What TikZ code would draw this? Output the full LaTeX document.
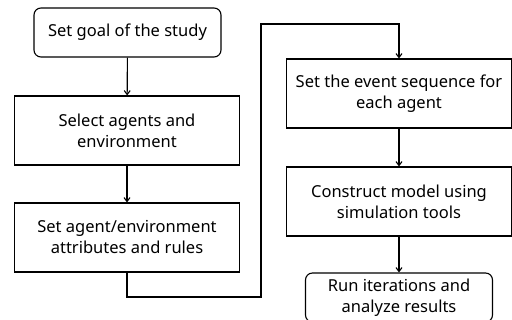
\documentclass[tikz,border=0pt]{standalone}
\usepackage{fontspec}
\setmainfont{Noto Sans}
\usetikzlibrary{arrows.meta}
\begin{document}
\begin{tikzpicture}[x=1pt, y=-1pt, line width=1.1pt,
    box/.style={rectangle, draw, align=center, inner sep=0pt, minimum width=225pt, minimum height=69pt, font=\fontsize{16.5}{21}\selectfont},
    endbox/.style={box, rounded corners=7pt, minimum width=187pt, minimum height=49pt},
    >={Straight Barb[length=4pt, width=6pt]}]
    \useasboundingbox (0,0) rectangle (512,320);
    \node[endbox] (goal) at (127.5,32.5) {Set goal of the study};
    \node[box] (select) at (127,130.5) {Select agents and\\environment};
    \node[box] (attr) at (127,237.5) {Set agent/environment\\attributes and rules};
    \node[box] (event) at (399,93.5) {Set the event sequence for\\each agent};
    \node[box] (model) at (399,201.5) {Construct model using\\simulation tools};
    \node[endbox] (run) at (399,297.5) {Run iterations and\\analyze results};
    \coordinate (low) at (261,297);
    \coordinate (high) at (261,24);
    \draw[->] (goal) -- (select);
    \draw[->] (select) -- (attr);
    \draw[->] (attr.south) |- (low) -- (high) -| (event.north);
    \draw[->] (event) -- (model);
    \draw[->] (model) -- (run);
\end{tikzpicture}
\end{document}
